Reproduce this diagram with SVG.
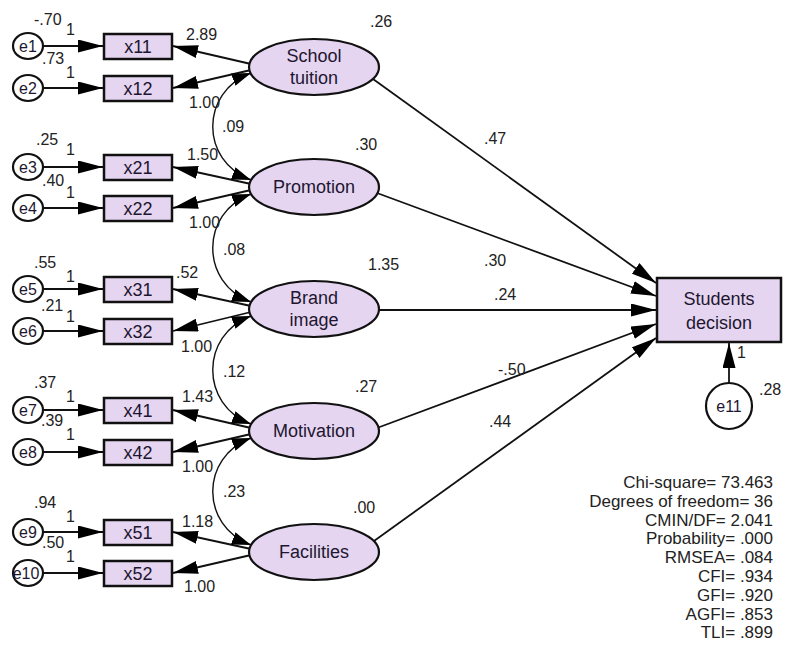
<svg xmlns="http://www.w3.org/2000/svg" width="788" height="658" viewBox="0 0 788 658">
<defs>
<style>
.bg{fill:#ffffff}
.obs{fill:#e5d5f0;stroke:#111;stroke-width:2.5}
.lat{fill:#e5d5f0;stroke:#111;stroke-width:2.2}
.err{fill:#ffffff;stroke:#111;stroke-width:2.2}
.t{font-family:"Liberation Sans",Arial,sans-serif;fill:#1e1630}
.big{font-size:18px;text-anchor:middle}
.box{font-size:18px;text-anchor:middle}
.en{font-size:16px;text-anchor:middle}
.lb{font-size:16px;fill:#222}
.fit{font-size:17px;text-anchor:end;fill:#222}
.ln{fill:none;stroke:#111;stroke-width:1.8}
.cv{fill:none;stroke:#111;stroke-width:1.4}
</style>
<marker id="ah" markerUnits="userSpaceOnUse" markerWidth="25" markerHeight="13" refX="25" refY="6.5" orient="auto"><path d="M0,0 L25,6.5 L0,13 z" fill="#000"/></marker>
<marker id="ch" markerUnits="userSpaceOnUse" markerWidth="19" markerHeight="13" refX="19" refY="6.5" orient="auto-start-reverse"><path d="M0,0 L19,6.5 L0,13 z" fill="#000"/></marker>
</defs>
<rect class="bg" x="0" y="0" width="788" height="658"/>

<g id="connectors">
<line class="ln" x1="43" y1="46" x2="103" y2="46" marker-end="url(#ah)"/>
<line class="ln" x1="43" y1="88" x2="103" y2="88" marker-end="url(#ah)"/>
<line class="ln" x1="43" y1="167" x2="103" y2="167" marker-end="url(#ah)"/>
<line class="ln" x1="43" y1="208" x2="103" y2="208" marker-end="url(#ah)"/>
<line class="ln" x1="43" y1="289" x2="103" y2="289" marker-end="url(#ah)"/>
<line class="ln" x1="43" y1="331" x2="103" y2="331" marker-end="url(#ah)"/>
<line class="ln" x1="43" y1="410" x2="103" y2="410" marker-end="url(#ah)"/>
<line class="ln" x1="43" y1="452" x2="103" y2="452" marker-end="url(#ah)"/>
<line class="ln" x1="43" y1="532" x2="103" y2="532" marker-end="url(#ah)"/>
<line class="ln" x1="43" y1="573" x2="103" y2="573" marker-end="url(#ah)"/>
<line class="ln" x1="251" y1="64" x2="173" y2="46" marker-end="url(#ah)"/>
<line class="ln" x1="251" y1="70" x2="173" y2="88" marker-end="url(#ah)"/>
<line class="ln" x1="251" y1="184" x2="173" y2="167" marker-end="url(#ah)"/>
<line class="ln" x1="251" y1="190" x2="173" y2="208" marker-end="url(#ah)"/>
<line class="ln" x1="251" y1="306" x2="173" y2="289" marker-end="url(#ah)"/>
<line class="ln" x1="251" y1="312" x2="173" y2="331" marker-end="url(#ah)"/>
<line class="ln" x1="251" y1="428" x2="173" y2="410" marker-end="url(#ah)"/>
<line class="ln" x1="251" y1="434" x2="173" y2="452" marker-end="url(#ah)"/>
<line class="ln" x1="251" y1="549" x2="173" y2="532" marker-end="url(#ah)"/>
<line class="ln" x1="251" y1="555" x2="173" y2="573" marker-end="url(#ah)"/>
<path class="cv" d="M251 73 C200 92,200 161,251 180" marker-start="url(#ch)" marker-end="url(#ch)"/>
<path class="cv" d="M251 194 C200 213,200 283,251 302" marker-start="url(#ch)" marker-end="url(#ch)"/>
<path class="cv" d="M251 316 C200 335,200 405,251 424" marker-start="url(#ch)" marker-end="url(#ch)"/>
<path class="cv" d="M251 438 C200 457,200 526,251 545" marker-start="url(#ch)" marker-end="url(#ch)"/>
<line class="ln" x1="373" y1="79" x2="656" y2="283" marker-end="url(#ah)"/>
<line class="ln" x1="377" y1="193" x2="656" y2="296" marker-end="url(#ah)"/>
<line class="ln" x1="379" y1="310" x2="656" y2="310" marker-end="url(#ah)"/>
<line class="ln" x1="377" y1="428" x2="656" y2="324" marker-end="url(#ah)"/>
<line class="ln" x1="374" y1="541" x2="656" y2="338" marker-end="url(#ah)"/>
<line class="ln" x1="729" y1="383" x2="729" y2="343" marker-end="url(#ah)"/>
</g>

<g id="e1"><ellipse class="err" cx="28" cy="46" rx="15" ry="13"/><text class="t en" x="28" y="52">e1</text></g>
<g id="e2"><ellipse class="err" cx="28" cy="88" rx="15" ry="13"/><text class="t en" x="28" y="94">e2</text></g>
<g id="e3"><ellipse class="err" cx="28" cy="167" rx="15" ry="13"/><text class="t en" x="28" y="173">e3</text></g>
<g id="e4"><ellipse class="err" cx="28" cy="208" rx="15" ry="13"/><text class="t en" x="28" y="214">e4</text></g>
<g id="e5"><ellipse class="err" cx="28" cy="289" rx="15" ry="13"/><text class="t en" x="28" y="295">e5</text></g>
<g id="e6"><ellipse class="err" cx="28" cy="331" rx="15" ry="13"/><text class="t en" x="28" y="337">e6</text></g>
<g id="e7"><ellipse class="err" cx="28" cy="410" rx="15" ry="13"/><text class="t en" x="28" y="416">e7</text></g>
<g id="e8"><ellipse class="err" cx="28" cy="452" rx="15" ry="13"/><text class="t en" x="28" y="458">e8</text></g>
<g id="e9"><ellipse class="err" cx="28" cy="532" rx="15" ry="13"/><text class="t en" x="28" y="538">e9</text></g>
<g id="e10"><ellipse class="err" cx="28" cy="573" rx="15" ry="13"/><text class="t en" x="26" y="579">e10</text></g>

<g id="x11"><rect class="obs" x="104" y="34" width="68" height="25"/><text class="t box" x="138" y="53">x11</text></g>
<g id="x12"><rect class="obs" x="104" y="76" width="68" height="25"/><text class="t box" x="138" y="95">x12</text></g>
<g id="x21"><rect class="obs" x="104" y="155" width="68" height="25"/><text class="t box" x="138" y="174">x21</text></g>
<g id="x22"><rect class="obs" x="104" y="196" width="68" height="25"/><text class="t box" x="138" y="215">x22</text></g>
<g id="x31"><rect class="obs" x="104" y="277" width="68" height="25"/><text class="t box" x="138" y="296">x31</text></g>
<g id="x32"><rect class="obs" x="104" y="319" width="68" height="25"/><text class="t box" x="138" y="338">x32</text></g>
<g id="x41"><rect class="obs" x="104" y="398" width="68" height="25"/><text class="t box" x="138" y="417">x41</text></g>
<g id="x42"><rect class="obs" x="104" y="440" width="68" height="25"/><text class="t box" x="138" y="459">x42</text></g>
<g id="x51"><rect class="obs" x="104" y="520" width="68" height="25"/><text class="t box" x="138" y="539">x51</text></g>
<g id="x52"><rect class="obs" x="104" y="561" width="68" height="25"/><text class="t box" x="138" y="580">x52</text></g>

<g id="school"><ellipse class="lat" cx="314" cy="67" rx="65" ry="28"/><text class="t big" x="314" y="62">School</text><text class="t big" x="314" y="84">tuition</text></g>
<g id="promotion"><ellipse class="lat" cx="314" cy="187" rx="65" ry="28"/><text class="t big" x="314" y="193">Promotion</text></g>
<g id="brand"><ellipse class="lat" cx="314" cy="309" rx="65" ry="28"/><text class="t big" x="314" y="304">Brand</text><text class="t big" x="314" y="326">image</text></g>
<g id="motivation"><ellipse class="lat" cx="314" cy="431" rx="65" ry="28"/><text class="t big" x="314" y="437">Motivation</text></g>
<g id="facilities"><ellipse class="lat" cx="314" cy="552" rx="65" ry="28"/><text class="t big" x="314" y="558">Facilities</text></g>

<g id="decision"><rect class="obs" x="657" y="278" width="124" height="64"/><text class="t big" x="719" y="305">Students</text><text class="t big" x="719" y="329">decision</text></g>
<g id="e11"><circle class="err" cx="729" cy="406" r="23"/><text class="t en" x="729" y="412">e11</text></g>

<g id="labels" class="t lb">
<text x="34" y="25">-.70</text><text x="66" y="35">1</text>
<text x="42" y="64">.73</text><text x="66" y="78">1</text>
<text x="36" y="145">.25</text><text x="66" y="155">1</text>
<text x="42" y="186">.40</text><text x="66" y="198">1</text>
<text x="34" y="268">.55</text><text x="66" y="282">1</text>
<text x="41" y="311">.21</text><text x="66" y="322">1</text>
<text x="34" y="388">.37</text><text x="66" y="402">1</text>
<text x="41" y="426">.39</text><text x="66" y="440">1</text>
<text x="34" y="508">.94</text><text x="66" y="522">1</text>
<text x="42" y="548">.50</text><text x="66" y="562">1</text>
<text x="186" y="40">2.89</text><text x="189" y="108">1.00</text>
<text x="187" y="160">1.50</text><text x="189" y="228">1.00</text>
<text x="176" y="278">.52</text><text x="181" y="352">1.00</text>
<text x="182" y="402">1.43</text><text x="182" y="472">1.00</text>
<text x="182" y="527">1.18</text><text x="184" y="592">1.00</text>
<text x="222" y="132">.09</text>
<text x="223" y="255">.08</text>
<text x="223" y="377">.12</text>
<text x="223" y="497">.23</text>
<text x="370" y="27">.26</text>
<text x="355" y="150">.30</text>
<text x="368" y="270">1.35</text>
<text x="355" y="392">.27</text>
<text x="353" y="513">.00</text>
<text x="484" y="144">.47</text>
<text x="484" y="266">.30</text>
<text x="494" y="300">.24</text>
<text x="498" y="375">-.50</text>
<text x="489" y="427">.44</text>
<text x="737" y="358">1</text>
<text x="759" y="395">.28</text>
</g>

<g id="fit" class="t fit">
<text x="773" y="488">Chi-square= 73.463</text>
<text x="773" y="507">Degrees of freedom= 36</text>
<text x="773" y="526">CMIN/DF= 2.041</text>
<text x="773" y="544">Probability= .000</text>
<text x="773" y="563">RMSEA= .084</text>
<text x="773" y="582">CFI= .934</text>
<text x="773" y="601">GFI= .920</text>
<text x="773" y="620">AGFI= .853</text>
<text x="773" y="638">TLI= .899</text>
</g>
</svg>
